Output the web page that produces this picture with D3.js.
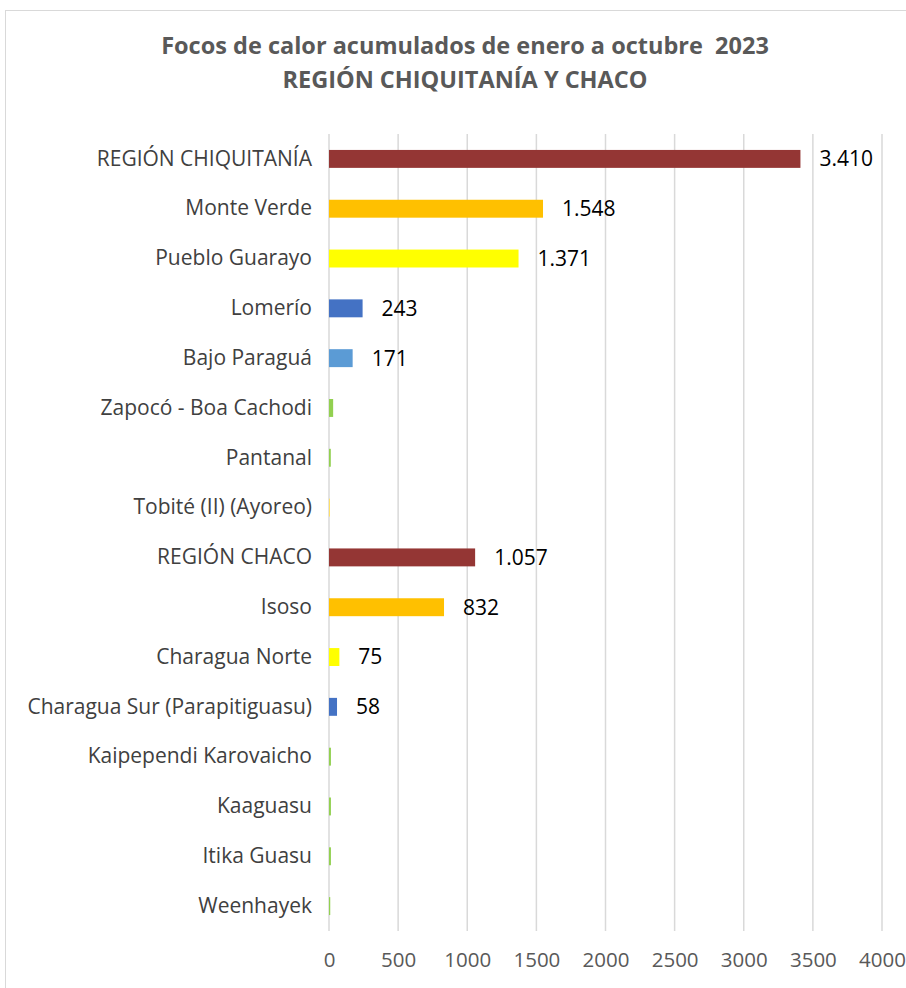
<!DOCTYPE html>
<html>
<head>
<meta charset="utf-8">
<script src="https://cdn.jsdelivr.net/npm/d3@7"></script>
<style>
  body { margin: 0; background: #fff; }
  svg text { font-family: "Open Sans", Lato, sans-serif; white-space: pre; }
</style>
</head>
<body>
<div id="container"></div>
<script>
  /* CONSTANTS AND GLOBALS */
  const width = 906,
        height = 988,
        margin = {top: 134, bottom: 57, left: 329, right: 24};

  // data
  const categories = ["REGIÓN CHIQUITANÍA", "Monte Verde", "Pueblo Guarayo", "Lomerío",
    "Bajo Paraguá", "Zapocó - Boa Cachodi", "Pantanal", "Tobité (II) (Ayoreo)",
    "REGIÓN CHACO", "Isoso", "Charagua Norte", "Charagua Sur (Parapitiguasu)",
    "Kaipependi Karovaicho", "Kaaguasu", "Itika Guasu", "Weenhayek"];
  const values = [3410, 1548, 1371, 243, 171, 30, 13, 7, 1057, 832, 75, 58, 14, 14, 14, 9];
  const barColors = ["#943634", "#FFC000", "#FFFF00", "#4472C4", "#5B9BD5", "#92D050", "#92D050", "#FFE066",
    "#943634", "#FFC000", "#FFFF00", "#4472C4", "#92D050", "#92D050", "#92D050", "#92D050"];
  const showLabel = [true, true, true, true, true, false, false, false, true, true, true, true, false, false, false, false];
  const xTicks = [0, 500, 1000, 1500, 2000, 2500, 3000, 3500, 4000];
  const titleLines = ["Focos de calor acumulados de enero a octubre  2023", "REGIÓN CHIQUITANÍA Y CHACO"];

  const data = categories.map((c, i) => ({name: c, value: values[i], color: barColors[i], label: showLabel[i]}));

  const svg = d3.select("#container").append("svg")
      .attr("width", width)
      .attr("height", height);

  // chart frame (cut by the page edge like the source image)
  svg.append("rect")
      .attr("x", 5.5).attr("y", 10.5)
      .attr("width", width + 20).attr("height", height + 20)
      .attr("fill", "none")
      .attr("stroke", "#d9d9d9");

  // + SCALES
  const xScale = d3.scaleLinear()
      .domain([0, 4000])
      .range([margin.left, width - margin.right]);

  const yScale = d3.scaleBand()
      .domain(categories)
      .range([margin.top, height - margin.bottom])
      .paddingInner(0.64)
      .paddingOuter(0.32);

  // gridlines
  svg.append("g")
      .selectAll("line")
      .data(xTicks)
      .join("line")
      .attr("x1", d => xScale(d)).attr("x2", d => xScale(d))
      .attr("y1", margin.top).attr("y2", height - margin.bottom)
      .attr("stroke", "#d9d9d9")
      .attr("stroke-width", 1.5);

  // x axis labels
  const xAxis = d3.axisBottom(xScale).tickValues(xTicks).tickSize(0).tickPadding(21).tickFormat(d3.format("d"));
  svg.append("g")
      .attr("transform", `translate(0,${height - margin.bottom})`)
      .call(xAxis)
      .call(g => g.select(".domain").remove())
      .selectAll("text")
      .attr("fill", "#595959")
      .attr("font-size", "20.5px")
      .style("font-family", "'Open Sans', Lato, sans-serif");

  // y axis labels
  const yAxis = d3.axisLeft(yScale).tickSize(0).tickPadding(17);
  svg.append("g")
      .attr("transform", `translate(${margin.left},0)`)
      .call(yAxis)
      .call(g => g.select(".domain").remove())
      .selectAll("text")
      .attr("fill", "#404040")
      .attr("font-size", "21px")
      .style("font-family", "'Open Sans', Lato, sans-serif");

  // + BARS
  svg.append("g")
      .selectAll("rect")
      .data(data)
      .join("rect")
      .attr("x", xScale(0))
      .attr("y", d => yScale(d.name))
      .attr("width", d => xScale(d.value) - xScale(0))
      .attr("height", yScale.bandwidth())
      .attr("fill", d => d.color);

  // value labels
  const fmt = d3.formatLocale({decimal: ",", thousands: ".", grouping: [3], currency: ["", ""]}).format(",d");
  svg.append("g")
      .selectAll("text")
      .data(data.filter(d => d.label))
      .join("text")
      .attr("x", d => xScale(d.value) + 19)
      .attr("y", d => yScale(d.name) + yScale.bandwidth() / 2)
      .attr("dy", "0.35em")
      .attr("fill", "#000")
      .attr("font-size", "21px")
      .text(d => fmt(d.value));

  // title
  svg.append("g")
      .selectAll("text")
      .data(titleLines)
      .join("text")
      .attr("x", 465)
      .attr("y", (d, i) => 54 + i * 34)
      .attr("text-anchor", "middle")
      .attr("fill", "#595959")
      .attr("font-weight", "bold")
      .attr("font-size", "23.5px")
      .text(d => d);
</script>
</body>
</html>
